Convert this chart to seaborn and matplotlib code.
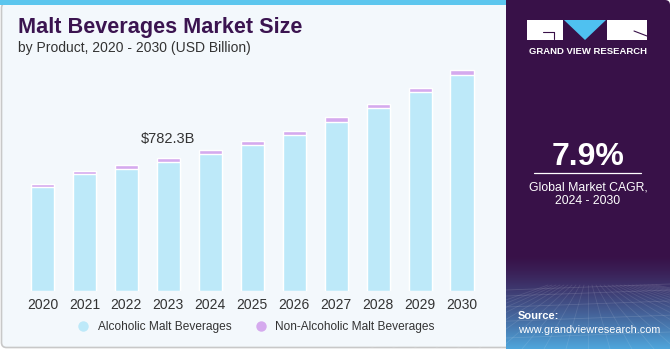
import numpy as np
import pandas as pd
import matplotlib
matplotlib.use("Agg")
import matplotlib.pyplot as plt
from matplotlib.patches import FancyBboxPatch, Rectangle, Polygon
from matplotlib.lines import Line2D
import seaborn as sns

years = ["2020", "2021", "2022", "2023", "2024", "2025", "2026", "2027", "2028", "2029", "2030"]
non_alcoholic = [18, 19, 20, 21, 22, 23, 24, 26, 27, 28, 30]
alcoholic = [611, 687, 721, 761.3, 806, 859, 919, 997, 1075, 1170, 1274]
label_year = "2023"
label_text = "$782.3B"

PURPLE_DARK = "#381148"
TITLE_COL = "#3b1450"
BLUE = "#bde9f9"
LILAC = "#d5aaee"
BG = "#f3f8fc"

sns.set_theme(style="white")
plt.rcParams["font.family"] = ["Liberation Sans", "DejaVu Sans"]

df = pd.DataFrame({"year": years, "alc": alcoholic, "non": non_alcoholic})
df["total"] = df["alc"] + df["non"]

fig = plt.figure(figsize=(6.71, 3.5), dpi=100)
fig.patch.set_facecolor("white")

# background canvas in pixel coords
bg = fig.add_axes([0, 0, 1, 1], zorder=0)
bg.set_xlim(0, 671)
bg.set_ylim(350, 0)
bg.axis("off")
bg.add_patch(FancyBboxPatch((1.5, 3), 520, 344.5, boxstyle="round,pad=0,rounding_size=5",
                            fc=BG, ec="#c8c8c8", lw=1.2))
bg.add_patch(Rectangle((0, 0), 506, 4.5, fc="#5cc6ee", ec="none"))
bg.add_patch(FancyBboxPatch((506, 0), 164, 349, boxstyle="round,pad=0,rounding_size=5",
                            fc=PURPLE_DARK, ec="none"))
bg.add_patch(Rectangle((506, 0), 10, 349, fc=PURPLE_DARK, ec="none"))

# gradient at bottom of right panel
grad = np.linspace(0, 1, 100)[:, None]
c0 = np.array([0x38, 0x11, 0x48]) / 255
c1 = np.array([0x4f, 0xa6, 0xdc]) / 255
img = (c0[None, None, :] * (1 - grad[..., None] ** 1.3) + c1[None, None, :] * grad[..., None] ** 1.3)
img = np.repeat(img, 2, axis=1)
bg.imshow(img, extent=(506, 670, 349, 255), aspect="auto", zorder=1)
for k in range(8):
    yy = 290 + (k ** 1.5) * 6
    bg.plot([506, 670], [yy, yy - 6], color="white", alpha=0.12, lw=0.6, zorder=2)
for k in range(-10, 18):
    bg.plot([588 + k * 4, 588 + k * 22], [285, 349], color="white", alpha=0.10, lw=0.6, zorder=2)

# logo
bg.add_patch(Rectangle((527, 20), 36, 19.5, fc="white", ec="none", zorder=3))
bg.add_patch(Rectangle((607, 20), 40, 19.5, fc="white", ec="none", zorder=3))
bg.add_patch(Polygon([(564, 20), (606, 20), (585, 40)], closed=True, fc="#4fc1f0", ec="none", zorder=3))
bg.plot([543, 554], [32, 32], color=PURPLE_DARK, lw=0.8, zorder=4)
bg.plot([554, 554], [32, 39], color=PURPLE_DARK, lw=0.8, zorder=4)
bg.plot([634, 647], [31, 36], color=PURPLE_DARK, lw=0.8, zorder=4)
bg.text(588, 51, "GRAND VIEW RESEARCH", color="white", fontsize=6.8, fontweight="bold",
        ha="center", va="center", zorder=4)

bg.text(588, 157, "7.9%", color="white", fontsize=23, fontweight="bold", ha="center", va="center", zorder=4)
bg.plot([534, 641], [173, 173], color="white", lw=0.9, zorder=4)
bg.text(588, 187, "Global Market CAGR,", color="white", fontsize=8.8, ha="center", va="center", zorder=4)
bg.text(588, 201, "2024 - 2030", color="white", fontsize=8.8, ha="center", va="center", zorder=4)
bg.text(518, 316, "Source:", color="white", fontsize=8, fontweight="bold", ha="left", va="center", zorder=4)
bg.text(518, 330, "www.grandviewresearch.com", color="white", fontsize=7.8, ha="left", va="center", zorder=4)

# titles
bg.text(18, 28, "Malt Beverages Market Size", color=TITLE_COL, fontsize=15.6, fontweight="bold",
        ha="left", va="center", zorder=4)
bg.text(18, 48, "by Product, 2020 - 2030 (USD Billion)", color="#333333", fontsize=10,
        ha="left", va="center", zorder=4)

# bar axes
ax = fig.add_axes([21.5 / 671, 59 / 350, 461.5 / 671, 231 / 350], zorder=2)
ax.patch.set_alpha(0)
sns.barplot(data=df, x="year", y="total", color=LILAC, width=0.55, saturation=1, ax=ax)
sns.barplot(data=df, x="year", y="alc", color=BLUE, width=0.55, saturation=1, ax=ax)
ax.set_xlim(-0.5, len(years) - 0.5)
ax.set_ylim(0, 1360)
ax.set_xlabel("")
ax.set_ylabel("")
ax.set_yticks([])
for s in ax.spines.values():
    s.set_visible(False)
ax.tick_params(axis="x", length=0, pad=5, labelsize=10, labelcolor="#333333")

i = years.index(label_year)
ax.annotate(label_text, (i, df["total"][i]), xytext=(0, 9), textcoords="offset points",
            ha="center", va="bottom", fontsize=10.5, color="#333333")

handles = [Line2D([], [], marker="o", ls="none", ms=7.5, mfc=BLUE, mec="none"),
           Line2D([], [], marker="o", ls="none", ms=7.5, mfc=LILAC, mec="none")]
fig.legend(handles, ["Alcoholic Malt Beverages", "Non-Alcoholic Malt Beverages"],
           loc="center", bbox_to_anchor=(253 / 671, 1 - 327 / 350), ncol=2, frameon=False,
           fontsize=8.6, handletextpad=0.2, columnspacing=1.5, labelcolor="#333333")

fig.savefig("out.png", dpi=100)
